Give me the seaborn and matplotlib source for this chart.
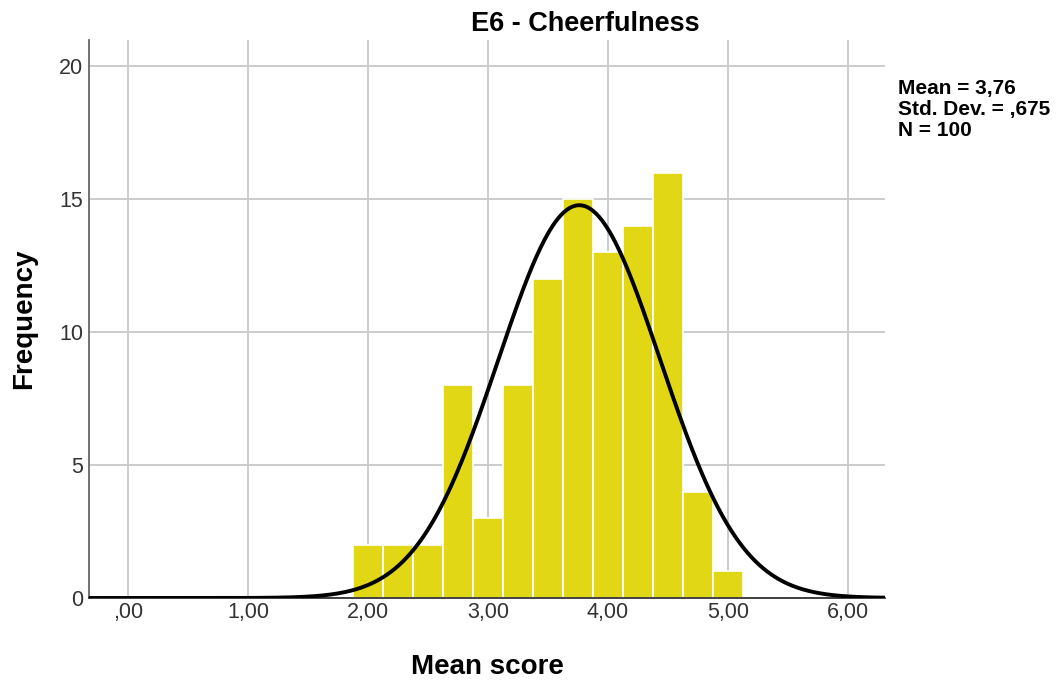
import numpy as np
import matplotlib
matplotlib.use("Agg")
import matplotlib.pyplot as plt
import seaborn as sns

# histogram data (bin width 0.25)
bin_edges = [1.875, 2.125, 2.375, 2.625, 2.875, 3.125, 3.375, 3.625,
             3.875, 4.125, 4.375, 4.625, 4.875, 5.125]
counts = [2, 2, 2, 8, 3, 8, 12, 15, 13, 14, 16, 4, 1]
mean_score = 3.76
std_dev = 0.675
n_obs = 100
x_ticks = [0, 1, 2, 3, 4, 5, 6]
x_tick_labels = [",00", "1,00", "2,00", "3,00", "4,00", "5,00", "6,00"]
y_ticks = [0, 5, 10, 15, 20]

sns.set_style("white")
plt.rcParams["font.family"] = ["Liberation Sans", "DejaVu Sans"]

fig = plt.figure(figsize=(10.58, 6.85), dpi=100)
ax = fig.add_axes([0.084, 0.127, 0.7525, 0.815])

centers = [(a + b) / 2 for a, b in zip(bin_edges[:-1], bin_edges[1:])]
sns.histplot(x=centers, weights=counts, bins=bin_edges, color="#e1d714",
             edgecolor="white", linewidth=1.2, alpha=1, ax=ax, zorder=2)

# normal curve scaled to counts
bw = bin_edges[1] - bin_edges[0]
xs = np.linspace(-0.4, 6.4, 600)
ys = n_obs * bw / (std_dev * np.sqrt(2 * np.pi)) * np.exp(-0.5 * ((xs - mean_score) / std_dev) ** 2)
ax.plot(xs, ys, color="black", lw=2.8, zorder=3)

ax.set_xlim(-0.33, 6.31)
ax.set_ylim(0, 21)
ax.set_xticks(x_ticks)
ax.set_xticklabels(x_tick_labels)
ax.set_yticks(y_ticks)
ax.grid(True, color="#cccccc", lw=1.4, zorder=0)
ax.set_axisbelow(True)
ax.tick_params(axis="x", length=0, labelsize=15.5, colors="#333333", pad=3)
ax.tick_params(axis="y", length=0, labelsize=15.5, colors="#333333", pad=4)
for s in ["top", "right"]:
    ax.spines[s].set_visible(False)
ax.spines["left"].set_color("#666666")
ax.spines["bottom"].set_color("#333333")
ax.spines["left"].set_linewidth(1.3)
ax.spines["bottom"].set_linewidth(1.3)

ax.set_xlabel("Mean score", fontsize=20, fontweight="bold", color="black", labelpad=22)
ax.set_ylabel("Frequency", fontsize=20, fontweight="bold", color="black", labelpad=16)

fig.text(585 / 1058, 1 - 24 / 685, "E6 - Cheerfulness", fontsize=19.5,
         fontweight="bold", color="black", ha="center", va="center")
fig.text(898 / 1058, 1 - 79 / 685,
         f"Mean = 3,76\nStd. Dev. = ,675\nN = {n_obs}",
         fontsize=15, fontweight="bold", color="black", ha="left", va="top",
         linespacing=1.12)

fig.savefig("out.png", dpi=100)
